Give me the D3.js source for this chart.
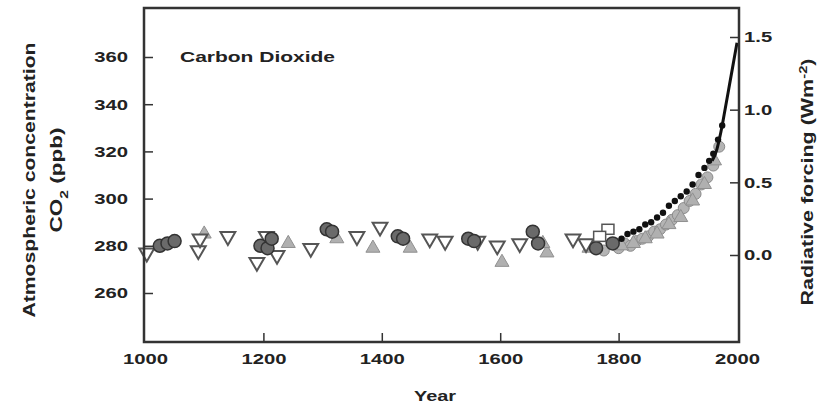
<!DOCTYPE html>
<html>
<head>
<meta charset="utf-8">
<script src="https://cdn.jsdelivr.net/npm/d3@7"></script>
<style>
  html, body { margin: 0; padding: 0; background: #fff; }
  svg { display: block; }
  text { font-family: "Liberation Sans", Arial, sans-serif; font-weight: bold; fill: #222; }
</style>
</head>
<body>
<svg id="chart" width="828" height="408"></svg>
<script>
// ---------- data ----------
const xTicks = [1000, 1200, 1400, 1600, 1800, 2000];
const yTicks = [260, 280, 300, 320, 340, 360];
const rTicks = [0.0, 0.5, 1.0, 1.5];

// ice-core samples, dark filled circles [year, ppm]
const darkCircles = [[1025,280],[1038,281],[1050,282],[1195,280],[1207,279],[1214,283],[1307,287],[1316,286],
  [1427,284],[1436,283],[1546,283],[1556,282],[1655,286],[1664,281],[1762,279],[1790,281]];
// open down-pointing triangles
const downTriangles = [[1003,277],[1090,278],[1140,284],[1189,273],[1223,276],[1280,279],[1358,284],[1397,288],
  [1481,283],[1507,282],[1562,282],[1595,280],[1633,281],[1723,283],[1745,281],[1205,284],[1093,283]];
// grey filled up-pointing triangles
const upTriangles = [[1100,285],[1242,281],[1324,283],[1385,279],[1448,279],[1603,273],[1679,277],[1750,279],[1672,281],
  [1805,280],[1825,281],[1845,283],[1865,285],[1885,289],[1905,292],[1925,299],[1945,306],[1962,316]];
// open squares
const squares = [[1782,287],[1768,284]];
// grey filled circles (ice core, industrial era band)
const greyCircles = [[1755,280],[1775,278],[1795,281],[1800,279],[1810,281],[1820,280],[1830,282],[1840,283],[1850,284],
  [1860,286],[1870,287],[1880,289],[1890,291],[1900,293],[1910,296],[1920,299],[1930,302],[1940,306],[1950,309],
  [1960,314],[1970,322]];
// small black dots (firn / ice core)
const blackDots = [[1805,283],[1815,285],[1825,286],[1835,287],[1845,289],[1855,290],[1865,292],[1875,294],[1885,297],
  [1895,299],[1905,301],[1915,303],[1925,306],[1935,310],[1945,313],[1953,316],[1960,319],[1968,325],[1975,331]];
// direct atmospheric measurements (line)
const lineYears = [1958, 1965, 1970, 1975, 1980, 1985, 1990, 1995, 2000];
const linePpm   = [316, 320, 325, 331, 338, 345, 352, 359, 366];

// ---------- layout ----------
const svg = d3.select("#chart");
const frame = {left: 144, right: 739, top: 8, bottom: 342};

const x = d3.scaleLinear().domain([1000, 2000]).range([145, 737]);
const y = d3.scaleLinear().domain([260, 360]).range([293, 57]);
const yR = d3.scaleLinear().domain([0, 1.5]).range([255, 37]);

function stretch(sel, k) {
  sel.each(function() {
    const w = this.getComputedTextLength();
    d3.select(this).attr("textLength", w * k).attr("lengthAdjust", "spacingAndGlyphs");
  });
}

// axes
const gx = svg.append("g").attr("transform", `translate(0,${frame.bottom})`)
  .call(d3.axisBottom(x).tickValues(xTicks).tickFormat(d3.format("d")).tickSize(-9).tickPadding(11));
const gy = svg.append("g").attr("transform", `translate(${frame.left},0)`)
  .call(d3.axisLeft(y).tickValues(yTicks).tickFormat(d3.format("d")).tickSize(-9).tickPadding(16));
const gr = svg.append("g").attr("transform", `translate(${frame.right},0)`)
  .call(d3.axisRight(yR).tickValues(rTicks).tickFormat(d3.format(".1f")).tickSize(-9).tickPadding(5));

[gx, gy, gr].forEach(g => {
  g.select(".domain").remove();
  g.selectAll(".tick line").attr("stroke", "#333").attr("stroke-width", 1.5);
  g.selectAll(".tick text").style("font-size", "15px").style("font-family", "'Liberation Sans', Arial, sans-serif")
    .style("font-weight", "bold").attr("fill", "#222");
  stretch(g.selectAll(".tick text"), 1.35);
});
gx.selectAll(".tick line").filter(d => d === 1000 || d === 2000).remove();

// markers
const plot = svg.append("g");
const sym = (type, size) => d3.symbol().type(type).size(size)();

plot.selectAll(".gc").data(greyCircles).join("circle")
  .attr("cx", d => x(d[0])).attr("cy", d => y(d[1])).attr("r", 5.5)
  .attr("fill", "#b4b4b4").attr("stroke", "#8a8a8a").attr("stroke-width", 1);

plot.selectAll(".ut").data(upTriangles).join("path")
  .attr("d", sym(d3.symbolTriangle, 85))
  .attr("transform", d => `translate(${x(d[0])},${y(d[1])})`)
  .attr("fill", "#b0b0b0").attr("stroke", "#909090").attr("stroke-width", 1);

plot.selectAll(".dt").data(downTriangles).join("path")
  .attr("d", sym(d3.symbolTriangle, 95))
  .attr("transform", d => `translate(${x(d[0])},${y(d[1])}) rotate(180)`)
  .attr("fill", "#fff").attr("stroke", "#555").attr("stroke-width", 2);

plot.selectAll(".dc").data(darkCircles).join("circle")
  .attr("cx", d => x(d[0])).attr("cy", d => y(d[1])).attr("r", 6.5)
  .attr("fill", "#6a6a6a").attr("stroke", "#333").attr("stroke-width", 1.5);

plot.selectAll(".sq").data(squares).join("rect")
  .attr("x", d => x(d[0]) - 6).attr("y", d => y(d[1]) - 5).attr("width", 12).attr("height", 10)
  .attr("fill", "#fff").attr("stroke", "#555").attr("stroke-width", 1.5);

plot.selectAll(".bd").data(blackDots).join("circle")
  .attr("cx", d => x(d[0])).attr("cy", d => y(d[1])).attr("r", 3.2)
  .attr("fill", "#111");

const line = d3.line().x(d => x(d[0])).y(d => y(d[1])).curve(d3.curveMonotoneX);
plot.append("path").datum(lineYears.map((yr, i) => [yr, linePpm[i]]))
  .attr("d", line).attr("fill", "none").attr("stroke", "#111").attr("stroke-width", 3);

// frame
svg.append("rect").attr("x", frame.left).attr("y", frame.top)
  .attr("width", frame.right - frame.left).attr("height", frame.bottom - frame.top)
  .attr("fill", "none").attr("stroke", "#333").attr("stroke-width", 2.5);

// labels
svg.append("text").attr("x", 180).attr("y", 62).style("font-size", "15px")
  .attr("textLength", 155).attr("lengthAdjust", "spacingAndGlyphs").text("Carbon Dioxide");

svg.append("text").attr("x", 435).attr("y", 401).attr("text-anchor", "middle").style("font-size", "15px")
  .attr("textLength", 42).attr("lengthAdjust", "spacingAndGlyphs").text("Year");

svg.append("text").attr("transform", "translate(35,180) rotate(-90)").attr("text-anchor", "middle")
  .style("font-size", "16px").attr("fill", "#333")
  .attr("textLength", 275).attr("lengthAdjust", "spacingAndGlyphs").text("Atmospheric concentration");

const co2 = svg.append("text").attr("transform", "translate(62,180) rotate(-90)").attr("text-anchor", "middle")
  .style("font-size", "16px").attr("fill", "#333")
  .attr("textLength", 105).attr("lengthAdjust", "spacingAndGlyphs");
co2.append("tspan").text("CO");
co2.append("tspan").attr("baseline-shift", "sub").style("font-size", "11px").text("2");
co2.append("tspan").text(" (ppb)");

const rf = svg.append("text").attr("transform", "translate(813,182) rotate(-90)").attr("text-anchor", "middle")
  .style("font-size", "16px").attr("fill", "#333")
  .attr("textLength", 247).attr("lengthAdjust", "spacingAndGlyphs");
rf.append("tspan").text("Radiative forcing (Wm");
rf.append("tspan").attr("baseline-shift", "super").style("font-size", "11px").text("-2");
rf.append("tspan").text(")");
</script>
</body>
</html>
